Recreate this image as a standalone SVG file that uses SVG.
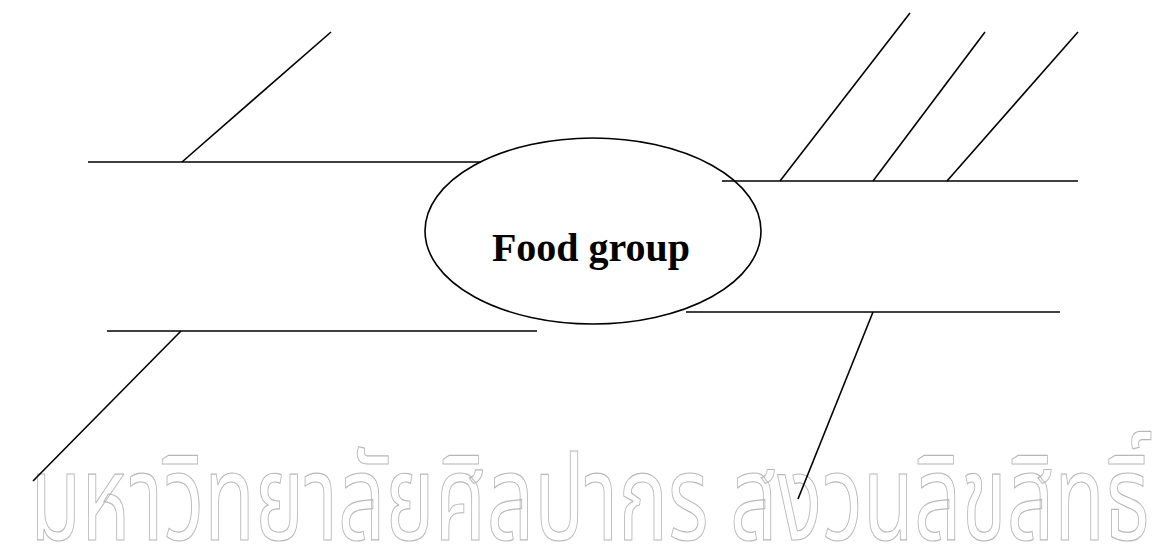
<svg xmlns="http://www.w3.org/2000/svg" width="1161" height="546" viewBox="0 0 1161 546">
<style>
.ln{stroke:#000;stroke-width:1.6;fill:none;stroke-linecap:butt}
.lbl{font-family:"Liberation Serif","Times New Roman",serif;font-weight:bold;font-size:40px;fill:#000}
.wm{font-family:"Noto Sans Thai","Noto Sans","DejaVu Sans",sans-serif;font-size:120px;fill:#fff;stroke:#b8b8b8;stroke-width:1.2}
</style>
<rect width="1161" height="546" fill="#fff"/>
<g id="watermark">
<text class="wm" x="30" y="540" textLength="1120" lengthAdjust="spacingAndGlyphs">มหาวิทยาลัยศิลปากร สงวนลิขสิทธิ์</text>
</g>
<g id="connectors">
<line class="ln" x1="88" y1="162" x2="481" y2="162"/>
<line class="ln" x1="182" y1="162" x2="331" y2="32"/>
<line class="ln" x1="722" y1="181" x2="1078" y2="181"/>
<line class="ln" x1="780" y1="181" x2="910" y2="13"/>
<line class="ln" x1="873" y1="181" x2="985" y2="32"/>
<line class="ln" x1="947" y1="181" x2="1078" y2="32"/>
<line class="ln" x1="107" y1="331" x2="537" y2="331"/>
<line class="ln" x1="181" y1="331" x2="33" y2="481"/>
<line class="ln" x1="686" y1="312" x2="1060" y2="312"/>
<line class="ln" x1="873" y1="312" x2="798" y2="499"/>
</g>
<g id="food-group">
<ellipse class="ln" cx="593" cy="231" rx="168" ry="93"/>
<text class="lbl" x="591" y="261" text-anchor="middle">Food group</text>
</g>
</svg>
